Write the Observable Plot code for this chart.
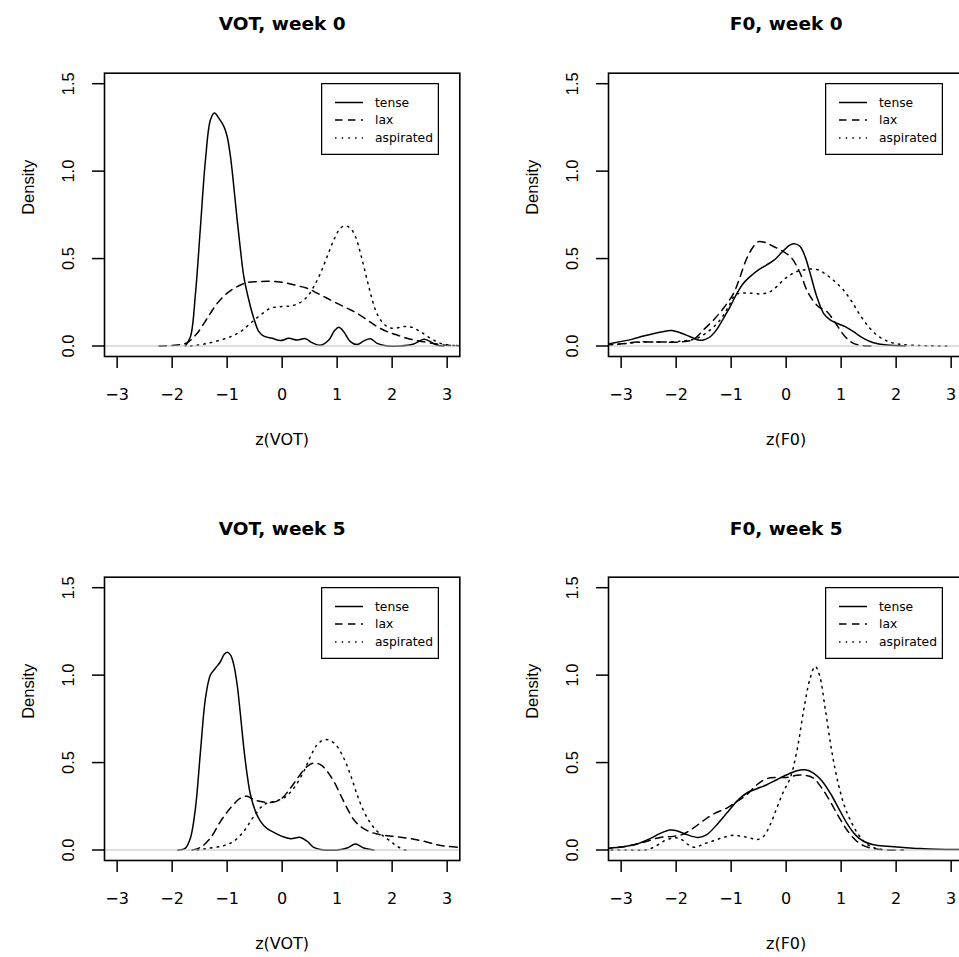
<!DOCTYPE html>
<html><head><meta charset="utf-8">
<script src="https://cdn.jsdelivr.net/npm/d3@7"></script>
<script src="https://cdn.jsdelivr.net/npm/@observablehq/plot@0.6"></script>
<style>
body{margin:0;background:#fff;}
#chart{position:relative;width:959px;height:957px;overflow:hidden;background:#fff;}
.panel{position:absolute;width:480px;height:478px;}
.legend{position:absolute;left:321px;top:83px;}
</style></head><body><div id="chart"></div>
<script>
const categories = ["tense", "lax", "aspirated"];
const xTicks = [-3, -2, -1, 0, 1, 2, 3];
const yTicks = [0, 0.5, 1.0, 1.5];
const panelTitles = ["VOT, week 0", "F0, week 0", "VOT, week 5", "F0, week 5"];
const panelXLabels = ["z(VOT)", "z(F0)", "z(VOT)", "z(F0)"];
const yLabel = "Density";

const votWeek0Tense = [[-1.76,0],[-1.667,0.053],[-1.576,0.30],[-1.485,0.683],[-1.394,1.065],[-1.303,1.294],[-1.23,1.332],[-1.152,1.303],[-1.06,1.256],[-1.0,1.198],[-0.94,1.084],[-0.879,0.912],[-0.818,0.721],[-0.758,0.55],[-0.697,0.397],[-0.606,0.263],[-0.515,0.158],[-0.424,0.082],[-0.333,0.057],[-0.182,0.044],[-0.03,0.031],[0.121,0.044],[0.273,0.034],[0.424,0.042],[0.545,0.019],[0.697,0.004],[0.848,0.034],[0.952,0.088],[1.03,0.107],[1.12,0.082],[1.24,0.025],[1.364,0.008],[1.485,0.029],[1.606,0.042],[1.727,0.015],[1.88,0.002],[2.15,0],[2.39,0.011],[2.576,0.038],[2.697,0.025],[2.82,0.004],[2.94,0]];
const votWeek0Lax = [[-2.24,0],[-1.91,0.006],[-1.727,0.019],[-1.545,0.073],[-1.364,0.158],[-1.18,0.244],[-1.0,0.302],[-0.818,0.34],[-0.636,0.363],[-0.455,0.368],[-0.273,0.37],[-0.09,0.368],[0.09,0.359],[0.273,0.345],[0.455,0.33],[0.636,0.302],[0.818,0.273],[1.0,0.244],[1.18,0.216],[1.364,0.187],[1.545,0.149],[1.727,0.111],[1.909,0.082],[2.09,0.063],[2.27,0.044],[2.45,0.031],[2.636,0.021],[2.82,0.011],[3.0,0.004],[3.25,0.002]];
const votWeek0Aspirated = [[-1.667,0],[-1.42,0.011],[-1.18,0.029],[-0.94,0.053],[-0.758,0.082],[-0.576,0.13],[-0.394,0.177],[-0.212,0.216],[-0.03,0.225],[0.152,0.229],[0.303,0.244],[0.455,0.282],[0.576,0.34],[0.697,0.416],[0.818,0.511],[0.94,0.607],[1.06,0.674],[1.15,0.687],[1.24,0.674],[1.333,0.626],[1.424,0.53],[1.515,0.416],[1.606,0.302],[1.697,0.206],[1.788,0.149],[1.909,0.111],[2.03,0.101],[2.21,0.111],[2.36,0.107],[2.515,0.082],[2.7,0.044],[2.88,0.015],[3.06,0.004],[3.25,0.002]];

const f0Week0Tense = [[-3.3,0.008],[-3.02,0.025],[-2.806,0.038],[-2.594,0.057],[-2.38,0.073],[-2.17,0.086],[-2.08,0.088],[-1.927,0.076],[-1.745,0.053],[-1.594,0.034],[-1.503,0.034],[-1.38,0.053],[-1.26,0.095],[-1.14,0.158],[-1.018,0.225],[-0.897,0.30],[-0.776,0.359],[-0.655,0.397],[-0.503,0.435],[-0.352,0.464],[-0.2,0.496],[-0.048,0.546],[0.073,0.578],[0.164,0.584],[0.255,0.569],[0.345,0.511],[0.436,0.416],[0.558,0.282],[0.68,0.187],[0.8,0.149],[0.92,0.13],[1.073,0.111],[1.224,0.082],[1.406,0.044],[1.588,0.019],[1.83,0.006],[2.164,0]];
const f0Week0Lax = [[-3.3,0.005],[-3.02,0.011],[-2.715,0.023],[-2.35,0.023],[-1.927,0.023],[-1.685,0.038],[-1.503,0.092],[-1.32,0.149],[-1.14,0.216],[-0.958,0.30],[-0.836,0.397],[-0.715,0.502],[-0.594,0.569],[-0.503,0.597],[-0.382,0.592],[-0.23,0.569],[-0.048,0.54],[0.103,0.502],[0.255,0.416],[0.406,0.30],[0.588,0.225],[0.739,0.197],[0.921,0.12],[1.073,0.053],[1.224,0.015],[1.406,0.002],[1.6,0]];
const f0Week0Aspirated = [[-3.3,0.005],[-2.96,0.013],[-2.594,0.023],[-2.23,0.023],[-1.867,0.029],[-1.624,0.044],[-1.38,0.092],[-1.2,0.149],[-1.048,0.225],[-0.927,0.292],[-0.836,0.302],[-0.655,0.302],[-0.442,0.298],[-0.29,0.311],[-0.17,0.34],[-0.048,0.378],[0.073,0.406],[0.194,0.426],[0.315,0.435],[0.436,0.441],[0.588,0.435],[0.739,0.406],[0.89,0.368],[1.042,0.32],[1.194,0.254],[1.345,0.177],[1.497,0.111],[1.648,0.063],[1.83,0.029],[2.04,0.011],[2.315,0.004],[2.62,0.001],[2.92,0]];

const votWeek5Tense = [[-1.897,0],[-1.758,0.011],[-1.667,0.069],[-1.576,0.24],[-1.485,0.564],[-1.394,0.869],[-1.303,1.002],[-1.212,1.04],[-1.12,1.078],[-1.06,1.116],[-1.0,1.131],[-0.94,1.116],[-0.879,1.059],[-0.818,0.945],[-0.758,0.773],[-0.697,0.583],[-0.636,0.43],[-0.576,0.316],[-0.485,0.221],[-0.394,0.164],[-0.273,0.122],[-0.152,0.101],[0,0.078],[0.152,0.065],[0.333,0.072],[0.455,0.05],[0.576,0.015],[0.758,0],[1.0,0],[1.18,0.011],[1.333,0.034],[1.485,0.011],[1.667,0]];
const votWeek5Lax = [[-1.636,0],[-1.485,0.015],[-1.303,0.069],[-1.12,0.164],[-0.94,0.24],[-0.758,0.297],[-0.636,0.307],[-0.515,0.288],[-0.333,0.274],[-0.152,0.274],[0,0.297],[0.152,0.354],[0.303,0.421],[0.455,0.478],[0.576,0.497],[0.697,0.488],[0.818,0.45],[0.94,0.392],[1.06,0.316],[1.18,0.24],[1.303,0.173],[1.424,0.135],[1.576,0.107],[1.727,0.091],[1.909,0.082],[2.09,0.076],[2.333,0.065],[2.576,0.05],[2.82,0.03],[3.0,0.021],[3.25,0.014]];
const votWeek5Aspirated = [[-1.545,0],[-1.303,0.011],[-1.06,0.025],[-0.879,0.05],[-0.697,0.107],[-0.515,0.192],[-0.333,0.259],[-0.152,0.278],[0.03,0.297],[0.212,0.354],[0.394,0.45],[0.515,0.535],[0.636,0.602],[0.758,0.63],[0.879,0.625],[1.0,0.592],[1.12,0.526],[1.242,0.43],[1.364,0.316],[1.485,0.221],[1.606,0.154],[1.727,0.107],[1.848,0.078],[1.97,0.05],[2.09,0.021],[2.24,0],[2.32,0]];

const f0Week5Tense = [[-3.3,0.009],[-2.958,0.019],[-2.715,0.034],[-2.473,0.065],[-2.29,0.095],[-2.11,0.114],[-1.99,0.11],[-1.806,0.088],[-1.594,0.072],[-1.442,0.088],[-1.26,0.145],[-1.079,0.211],[-0.897,0.278],[-0.715,0.326],[-0.533,0.35],[-0.352,0.373],[-0.17,0.402],[0.012,0.43],[0.194,0.453],[0.345,0.459],[0.497,0.44],[0.648,0.396],[0.8,0.326],[0.952,0.24],[1.103,0.154],[1.255,0.088],[1.406,0.05],[1.588,0.03],[1.83,0.021],[2.13,0.015],[2.436,0.008],[2.74,0.004],[3.25,0.002]];
const f0Week5Lax = [[-3.3,0.007],[-2.897,0.021],[-2.594,0.044],[-2.29,0.072],[-2.05,0.078],[-1.867,0.091],[-1.685,0.126],[-1.503,0.168],[-1.32,0.206],[-1.079,0.24],[-0.897,0.278],[-0.715,0.316],[-0.533,0.373],[-0.352,0.408],[-0.17,0.415],[0.012,0.415],[0.194,0.427],[0.345,0.427],[0.497,0.411],[0.648,0.354],[0.8,0.278],[0.952,0.192],[1.103,0.116],[1.255,0.059],[1.406,0.025],[1.588,0.008],[1.83,0],[2.13,0]];
const f0Week5Aspirated = [[-3.3,0],[-2.9,0],[-2.58,0],[-2.41,0.015],[-2.23,0.05],[-2.05,0.069],[-1.927,0.065],[-1.776,0.03],[-1.655,0.015],[-1.503,0.034],[-1.32,0.053],[-1.14,0.072],[-0.958,0.084],[-0.806,0.078],[-0.655,0.069],[-0.533,0.059],[-0.412,0.078],[-0.29,0.145],[-0.17,0.24],[-0.048,0.335],[0.073,0.411],[0.194,0.564],[0.315,0.792],[0.436,0.983],[0.527,1.05],[0.606,1.0],[0.709,0.811],[0.83,0.564],[0.952,0.373],[1.073,0.24],[1.194,0.154],[1.315,0.088],[1.467,0.034],[1.648,0.008],[1.83,0]];

const panelSeries = [
  [votWeek0Tense, votWeek0Lax, votWeek0Aspirated],
  [f0Week0Tense, f0Week0Lax, f0Week0Aspirated],
  [votWeek5Tense, votWeek5Lax, votWeek5Aspirated],
  [f0Week5Tense, f0Week5Lax, f0Week5Aspirated]
];

const dashes = [null, "7.5,5.5", "1.5,5.2"];
const SANS_WIDE = "'DejaVu Sans', sans-serif";
const SANS = "'Liberation Sans', Arial, Helvetica, sans-serif";
const fmtX = d => (d < 0 ? "\u2212" + (-d) : String(d));

function makePanel(title, xlabel, series) {
  const data = [];
  series.forEach((pts, i) => pts.forEach(([x, y]) => data.push({x, y, cat: categories[i]})));
  return Plot.plot({
    width: 480, height: 478,
    marginLeft: 104, marginRight: 20.7, marginTop: 72.7, marginBottom: 122,
    x: {domain: [-3.23, 3.23]},
    y: {domain: [-0.06, 1.56]},
    style: {background: "transparent", overflow: "visible"},
    marks: [
      ...categories.map((c, i) => Plot.line(data.filter(d => d.cat === c), {
        x: "x", y: "y", stroke: "black", strokeWidth: 1.5,
        strokeDasharray: dashes[i], curve: "catmull-rom", clip: true
      })),
      Plot.ruleY([0], {stroke: "#bebebe", strokeWidth: 1.2}),
      Plot.frame({stroke: "black", strokeWidth: 1.6}),
      Plot.axisX({ticks: xTicks, tickSize: 12, tickPadding: 20, strokeWidth: 1.5,
        tickFormat: fmtX, fontSize: 16, fontFamily: SANS_WIDE, label: null}),
      Plot.axisY({ticks: yTicks, tickSize: 12, tickPadding: 19, tickRotate: -90, strokeWidth: 1.5,
        tickFormat: d => d.toFixed(1), fontSize: 16.5, fontFamily: SANS, label: null}),
      Plot.text([title], {text: d => d, frameAnchor: "top", dy: -42.7, lineAnchor: "bottom",
        fontWeight: "bold", fontSize: 18.5, fontFamily: SANS_WIDE}),
      Plot.text([xlabel], {text: d => d, frameAnchor: "bottom", dy: 77, lineAnchor: "top",
        fontSize: 16, fontFamily: SANS_WIDE}),
      Plot.text([yLabel], {text: d => d, frameAnchor: "left", dx: -71, rotate: -90, lineAnchor: "bottom",
        fontSize: 16.5, fontFamily: SANS})
    ]
  });
}

function makeLegend() {
  const w = 118, h = 72;
  const svg = d3.create("svg").attr("width", w).attr("height", h).style("display", "block");
  svg.append("rect").attr("x", 0.6).attr("y", 0.6).attr("width", w - 1.2).attr("height", h - 1.2)
    .attr("fill", "white").attr("stroke", "black").attr("stroke-width", 1.3);
  const rows = [19.5, 37, 55];
  categories.forEach((c, i) => {
    svg.append("line").attr("x1", 14).attr("x2", 42).attr("y1", rows[i]).attr("y2", rows[i])
      .attr("stroke", "black").attr("stroke-width", 1.5)
      .attr("stroke-dasharray", dashes[i]);
    svg.append("text").attr("x", 54).attr("y", rows[i]).attr("dy", "0.35em")
      .attr("font-family", SANS_WIDE).attr("font-size", 12.3).text(c);
  });
  return svg.node();
}

const chart = document.getElementById("chart");
const positions = [[0, 0], [504, 0], [0, 504], [504, 504]];
positions.forEach(([left, top], k) => {
  const div = document.createElement("div");
  div.className = "panel";
  div.style.left = left + "px";
  div.style.top = top + "px";
  div.appendChild(makePanel(panelTitles[k], panelXLabels[k], panelSeries[k]));
  const leg = document.createElement("div");
  leg.className = "legend";
  leg.appendChild(makeLegend());
  div.appendChild(leg);
  chart.appendChild(div);
});
</script></body></html>
